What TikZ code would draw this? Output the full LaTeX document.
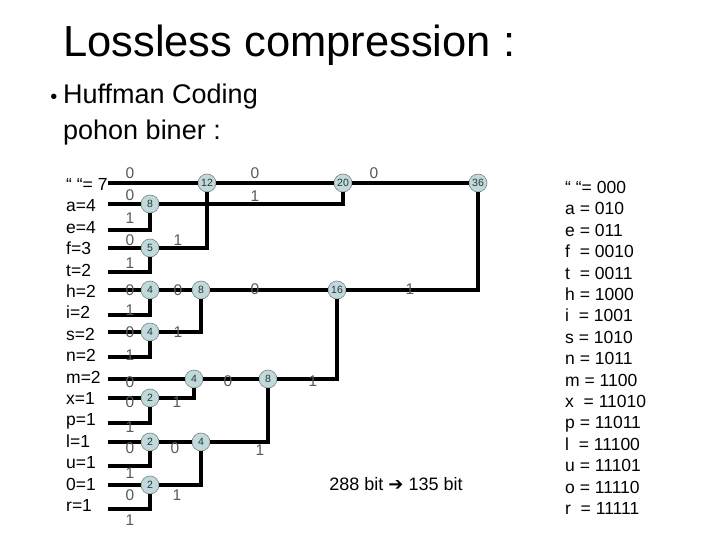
\documentclass[tikz,border=0pt]{standalone}
\usepackage{fontspec}
\setmainfont{Liberation Sans}
\newfontfamily\symfont{DejaVu Sans}
\definecolor{nodefill}{RGB}{190,218,220}
\tikzset{
  wt/.style={circle,draw=gray,fill=nodefill,line width=0.6pt,minimum size=18pt,inner sep=0pt,
    font=\fontsize{10.5}{11}\selectfont,text=black!80},
  bit/.style={inner sep=0pt,font=\fontsize{15.5}{16}\selectfont,text=black!65},
  sym/.style={anchor=base west,inner sep=0pt,font=\fontsize{17.5}{18}\selectfont},
  edge/.style={line width=3.2pt}
}
\begin{document}
\begin{tikzpicture}[x=1pt,y=-1pt]
   \useasboundingbox (0,0) rectangle (720,540);
   % heading
   \node[anchor=base west,inner sep=0pt,font=\fontsize{43.5}{44}\selectfont] (title) at (63,57) {Lossless compression :};
   \node[anchor=base,inner sep=0pt,font=\fontsize{20}{20}\selectfont] (bul) at (54,104) {•};
   \node[anchor=base west,inner sep=0pt,font=\fontsize{27}{28}\selectfont] (sub) at (63,104) {Huffman Coding};
   \node[anchor=base west,inner sep=0pt,font=\fontsize{27}{28}\selectfont] (sub2) at (63,140) {pohon biner :};
   % frequencies and codes
   \foreach \t [count=\i from 0] in {“ “= 7,a=4,e=4,f=3,t=2,h=2,i=2,s=2,n=2,m=2,x=1,p=1,l=1,u=1,0=1,r=1}
     \node[sym] (f\i) at (66,190.4+21.4*\i) {\t};
   \foreach \t [count=\i from 0] in {“ “= 000,a = 010,e = 011,f~ = 0010,t~ = 0011,h = 1000,i~ = 1001,s = 1010,
       n = 1011,m = 1100,x~ = 11010,p = 11011,l~ = 11100,u = 11101,o = 11110,r~ = 11111}
     \node[sym] (c\i) at (565,193.4+21.4*\i) {\t};
   \foreach \y [count=\i from 0] in {183,204,230,248,272,290,315,332,357,379,398,423,442,466,485,509}
     \coordinate (in\i) at (108,\y);
   % tree
   \node[wt] (a8)  at (150,204) {8};
   \node[wt] (f5)  at (150,248) {5};
   \node[wt] (h4)  at (150,290) {4};
   \node[wt] (s4)  at (150,332) {4};
   \node[wt] (x2)  at (150,398) {2};
   \node[wt] (l2)  at (150,442) {2};
   \node[wt] (o2)  at (150,485) {2};
   \node[wt] (m4)  at (194,379) {4};
   \node[wt] (h8)  at (201,290) {8};
   \node[wt] (l4)  at (201,442) {4};
   \node[wt] (t12) at (207,183) {12};
   \node[wt] (m8)  at (268,379) {8};
   \node[wt] (h16) at (337,290) {16};
   \node[wt] (t20) at (343,183) {20};
   \node[wt] (t36) at (478,183) {36};
   \draw[edge] (in0) -- (t12) -- (t20) -- (t36);
   \draw[edge] (in1) -- (a8);
   \draw[edge] (a8) -| (t20);
   \draw[edge] (in2) -| (a8);
   \draw[edge] (in3) -- (f5);
   \draw[edge] (f5) -| (t12);
   \draw[edge] (in4) -| (f5);
   \draw[edge] (in5) -- (h4) -- (h8) -- (h16);
   \draw[edge] (h16) -| (t36);
   \draw[edge] (in6) -| (h4);
   \draw[edge] (in7) -- (s4);
   \draw[edge] (s4) -| (h8);
   \draw[edge] (in8) -| (s4);
   \draw[edge] (in9) -- (m4) -- (m8);
   \draw[edge] (m8) -| (h16);
   \draw[edge] (in10) -- (x2);
   \draw[edge] (x2) -| (m4);
   \draw[edge] (in11) -| (x2);
   \draw[edge] (in12) -- (l2) -- (l4);
   \draw[edge] (l4) -| (m8);
   \draw[edge] (in13) -| (l2);
   \draw[edge] (in14) -- (o2);
   \draw[edge] (o2) -| (l4);
   \draw[edge] (in15) -| (o2);
   % branch bits
   \foreach \x/\y/\b [count=\k] in {130/173/0,255/173/0,374/173/0,130/195/0,255/196/1,130/218/1,
       130/240/0,178/240/1,130/263/1,130/290/0,178/290/0,255/289/0,410/289/1,130/310/1,
       130/332/0,178/332/1,130/355/1,130/382/0,228/381/0,313/381/1,130/402/0,177/402/1,
       130/427/1,130/448/0,175/448/0,260/450/1,130/473/1,130/495/0,177/495/1,130/520/1}
     \node[bit] (b\k) at (\x,\y) {\b};
   \node[font=\fontsize{18}{18}\selectfont,inner sep=0pt] (ratio) at (396,484) {288 bit {\symfont ➔} 135 bit};
\end{tikzpicture}
\end{document}
